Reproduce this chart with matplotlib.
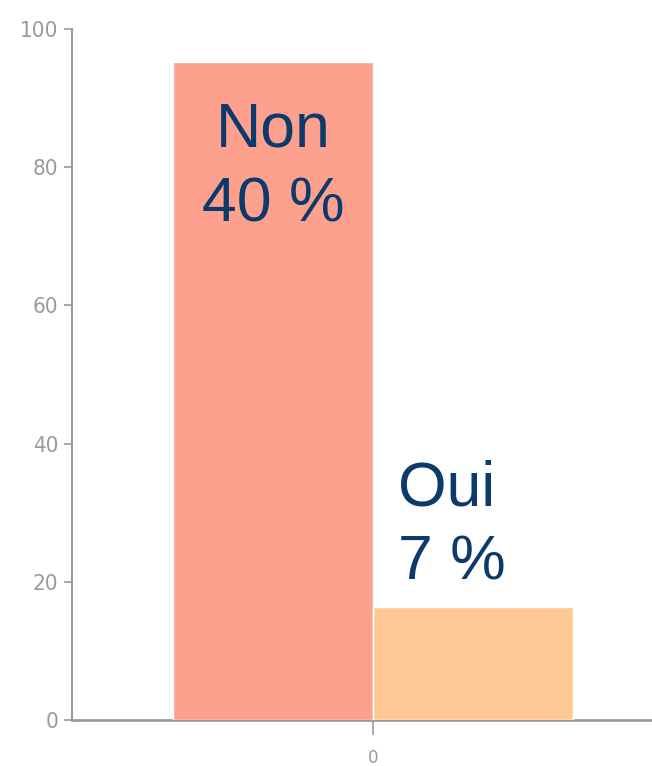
import matplotlib
matplotlib.use('Agg')
import matplotlib.pyplot as plt

# Data
categories = ['Non', 'Oui']
values = [95.2, 16.3]
percent_labels = ['40 %', '7 %']
bar_positions = [-0.5, 0.5]
bar_colors = ['#fda08d', '#fec995']
y_ticks = [0, 20, 40, 60, 80, 100]
x_ticks = [0]

text_color = '#0b3a6b'
axis_color = '#9a9a9a'

fig = plt.figure(figsize=(6.52, 7.66), dpi=100)
ax = fig.add_axes([72 / 652, 46 / 766, 580 / 652, 691 / 766])

# Bars
ax.bar(bar_positions, values, width=1.0, color=bar_colors,
       edgecolor='white', linewidth=1, zorder=3)

# Labels: "Non" centred inside its bar, "Oui" above its bar, left aligned
# (va='baseline' puts the last line's baseline at y)
ax.text(bar_positions[0], 72.1, f"{categories[0]}\n{percent_labels[0]}",
        ha='center', va='baseline', multialignment='center',
        fontsize=45, color=text_color, family='Liberation Sans',
        linespacing=1.36, zorder=4)
ax.text(0.125, 20.3, f"{categories[1]}\n{percent_labels[1]}",
        ha='left', va='baseline', multialignment='left',
        fontsize=45, color=text_color, family='Liberation Sans',
        linespacing=1.33, zorder=4)

# Axes limits and ticks
ax.set_xlim(-1.505, 1.395)
ax.set_ylim(0, 100)
ax.set_yticks(y_ticks)
ax.set_xticks(x_ticks)
ax.set_xticklabels([str(t) for t in x_ticks])

for label in ax.get_yticklabels():
    label.set_fontstretch('condensed')
    label.set_fontsize(16)
    label.set_color(axis_color)
for label in ax.get_xticklabels():
    label.set_fontsize(12)
    label.set_color(axis_color)

ax.tick_params(axis='y', length=6, width=1.2, color=axis_color, pad=4)
ax.tick_params(axis='x', length=11, width=1.2, color=axis_color, pad=10)

# Spines
ax.spines['top'].set_visible(False)
ax.spines['right'].set_visible(False)
ax.spines['left'].set_color(axis_color)
ax.spines['left'].set_linewidth(1.5)
ax.spines['bottom'].set_color(axis_color)
ax.spines['bottom'].set_linewidth(2)

fig.savefig('out.png', dpi=100)
